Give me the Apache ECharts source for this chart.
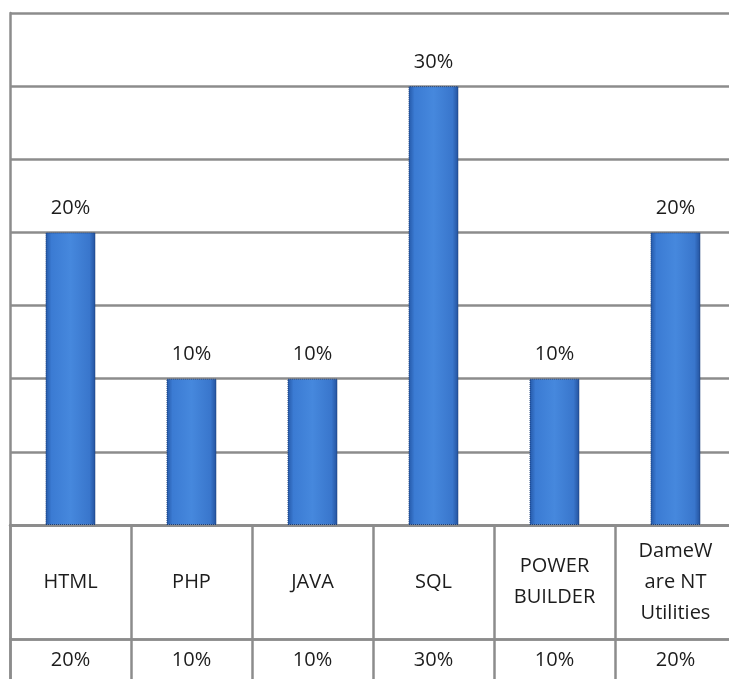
<!DOCTYPE html>
<html>
<head>
    <meta charset="utf-8">
    <title>Skills chart</title>
    <style>
        html, body { margin: 0; padding: 0; background: #fff; }
        #chart { width: 729px; height: 679px; }
    </style>
</head>
<body>
<script src="https://cdn.jsdelivr.net/npm/echarts@6/dist/echarts.min.js"></script>
<div id="chart"></div>
<script>
    var categories = ['HTML', 'PHP', 'JAVA', 'SQL', 'POWER\nBUILDER', 'DameW\nare NT\nUtilities'];
    var values = [20, 10, 10, 30, 10, 20];

    var gridColor = '#8c8c8c';
    var textColor = '#1c1c1c';
    var font = 'Open Sans';

    var myChart = echarts.init(document.getElementById('chart'));

    // one cell per category in the two table rows
    var labelRow = categories.map(function (c, i) { return [i, 0.5, c]; });
    var valueRow = values.map(function (v, i) { return [i, 0.5, v + '%']; });

    function tableX(idx) {
        return {
            type: 'category',
            gridIndex: idx,
            data: categories,
            axisLine: {show: false},
            axisTick: {show: false},
            axisLabel: {show: false},
            splitLine: {show: true, lineStyle: {color: gridColor, width: 2.5}}
        };
    }
    function tableY(idx) {
        return {
            type: 'value',
            gridIndex: idx,
            min: 0, max: 1, interval: 1,
            axisLine: {show: true, lineStyle: {color: gridColor, width: 2.5}},
            axisTick: {show: false},
            axisLabel: {show: false},
            splitLine: {show: true, lineStyle: {color: gridColor, width: 2.5}}
        };
    }
    function cellSeries(idx, data, lh) {
        return {
            type: 'scatter',
            xAxisIndex: idx,
            yAxisIndex: idx,
            data: data,
            symbolSize: 1,
            itemStyle: {color: 'rgba(0,0,0,0)', opacity: 1},
            silent: true,
            label: {
                show: true,
                position: 'inside',
                formatter: function (p) { return p.value[2]; },
                color: textColor,
                opacity: 1,
                fontFamily: font,
                fontSize: 20,
                lineHeight: lh,
                align: 'center',
                verticalAlign: 'middle'
            }
        };
    }

    var option = {
        animation: false,
        grid: [
            {left: 10, top: 13, width: 726, height: 512, outerBoundsMode: 'none'},
            {left: 10, top: 525, width: 726, height: 114, outerBoundsMode: 'none'},
            {left: 10, top: 639, width: 726, height: 42, outerBoundsMode: 'none'}
        ],
        xAxis: [
            {
                type: 'category',
                gridIndex: 0,
                data: categories,
                axisLine: {show: true, lineStyle: {color: gridColor, width: 2.5}},
                axisTick: {show: false},
                axisLabel: {show: false}
            },
            tableX(1),
            tableX(2)
        ],
        yAxis: [
            {
                type: 'value',
                gridIndex: 0,
                min: 0, max: 35, interval: 5,
                axisLine: {show: true, lineStyle: {color: gridColor, width: 2.5}},
                axisTick: {show: false},
                axisLabel: {show: false},
                splitLine: {show: true, lineStyle: {color: gridColor, width: 2.5}}
            },
            tableY(1),
            tableY(2)
        ],
        series: [
            {
                type: 'bar',
                xAxisIndex: 0,
                yAxisIndex: 0,
                data: values,
                barWidth: 50,
                itemStyle: {
                    color: new echarts.graphic.LinearGradient(0, 0, 1, 0, [
                        {offset: 0, color: '#2457a6'},
                        {offset: 0.12, color: '#3b7bd3'},
                        {offset: 0.5, color: '#4688dd'},
                        {offset: 0.88, color: '#3976cc'},
                        {offset: 1, color: '#23519c'}
                    ]),
                    borderColor: '#1a3d78',
                    borderWidth: 1,
                    borderType: 'dotted'
                },
                label: {
                    show: true,
                    position: 'top',
                    distance: 14,
                    formatter: '{c}%',
                    color: textColor,
                    fontFamily: font,
                    fontSize: 20
                }
            },
            cellSeries(1, labelRow, 31),
            cellSeries(2, valueRow, 24)
        ]
    };
    myChart.setOption(option);
</script>
</body>
</html>
